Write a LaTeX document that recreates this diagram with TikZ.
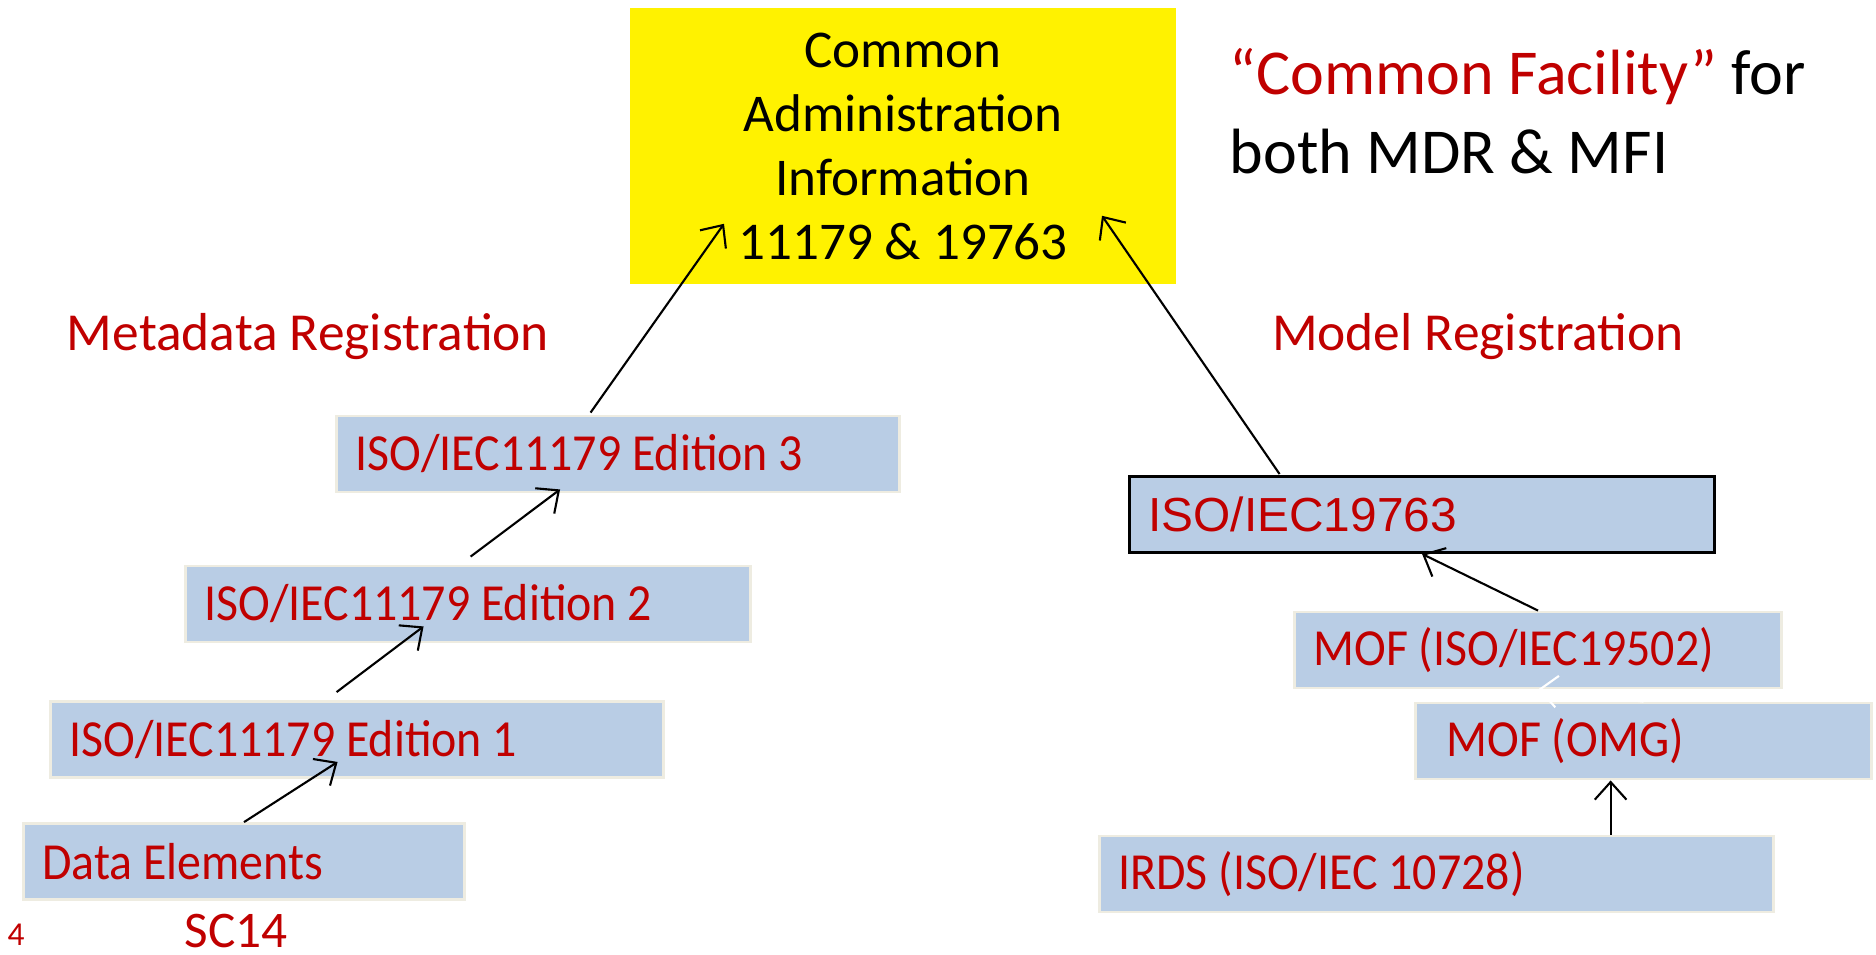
\documentclass[tikz,border=0pt]{standalone}
\usepackage{fontspec}
\setmainfont{Carlito}
\newfontfamily\boxfont[FakeStretch=0.92]{Carlito}
\newfontfamily\arialfont{Liberation Sans}
\usetikzlibrary{positioning}
\usetikzlibrary{calc}
\usetikzlibrary{arrows.meta}

\definecolor{regred}{HTML}{C00000}
\definecolor{boxblue}{HTML}{B9CDE5}
\definecolor{boxedge}{HTML}{EEECE1}

\tikzset{
  regbox/.style={rectangle, fill=boxblue, draw=boxedge, line width=0.8pt, anchor=west, minimum height=0.76cm, inner xsep=0.19cm, text width=#1, align=flush left, execute at begin node={\spaceskip=0pt\xspaceskip=0pt}, text=regred, font=\boxfont\fontsize{14.8}{18.2}\selectfont},
  arr/.style={->, >={Straight Barb[length=5pt,width=9pt]}, line width=0.6pt},
  redlabel/.style={text=regred, font=\fontsize{15.2}{18.5}\selectfont, inner sep=0pt}
}

\begin{document}
\begin{tikzpicture}[x=0.01cm, y=-0.01cm]
    \useasboundingbox (0,0) rectangle (1876,954);
    \node[fill=yellow, minimum width=5.46cm, minimum height=2.76cm, align=center, inner sep=0pt, font=\fontsize{15.1}{18.2}\selectfont] (cai) at (903,146) {Common\\Administration\\Information\\11179 \& 19763};   %common box
    \node[anchor=west, align=left, inner sep=0pt, font=\fontsize{18.2}{22.5}\selectfont] (facility) at (1229,111) {\textcolor{regred}{“Common Facility”} for\\both MDR \& MFI};
    \node[redlabel] (mdrlabel) at (308,337) {Metadata Registration};
    \node[redlabel] (mfilabel) at (1478,337) {Model Registration};

    %metadata side
    \node[regbox=5.25cm] (ed3) at (335,454) {ISO/IEC11179 Edition 3};
    \node[regbox=5.27cm] (ed2) at (184,604) {ISO/IEC11179 Edition 2};
    \node[regbox=5.75cm] (ed1) at (49,739.5) {ISO/IEC11179 Edition 1};
    \node[regbox=4.03cm] (data) at (22,861.5) {Data Elements};
    \node[redlabel, font=\fontsize{14.6}{17}\selectfont] (sc) at (236,931) {SC14};
    \node[redlabel, font=\fontsize{9.5}{11}\selectfont] (page) at (16,935) {4};

    %model side
    \node[regbox=5.47cm, draw=black, font=\arialfont\fontsize{13.6}{16}\selectfont] (iso) at (1128,514.5) {ISO/IEC19763};
    \node[regbox=4.49cm] (mofiso) at (1293,650) {MOF (ISO/IEC19502)};
    \node[regbox=3.94cm, inner xsep=0.31cm] (mofomg) at (1414,741) {MOF (OMG)};
    \node[regbox=6.36cm] (irds) at (1098,874) {IRDS (ISO/IEC 10728)};

    \draw[arr] (data.north) -- ($(ed1.south)+(-19.5,-17)$);
    \draw[arr] ($(ed1.north)+(-20.5,-8)$) -- ($(ed2.south)+(-44.5,-17)$);
    \draw[arr] ($(ed2.north)+(2.5,-8)$) -- ($(ed3.south)+(-58,-4)$);
    \draw[arr] ($(ed3.north)+(-27.5,-2)$) -- ($(cai.south)+(-179,-61)$);
    \draw[arr] ($(iso.north)+(-142.5,-1)$) -- ($(cai.south)+(199,-69)$);
    \draw[arr] (mofiso.north) -- (iso.south);
    \draw[arr, white] (mofomg.north) -- (mofiso.south);   %hidden arrow
    \coordinate (irdsout) at ($(irds.north)+(174,0)$);
    \draw[arr] (irdsout) -- (irdsout |- mofomg.south);
\end{tikzpicture}
\end{document}
